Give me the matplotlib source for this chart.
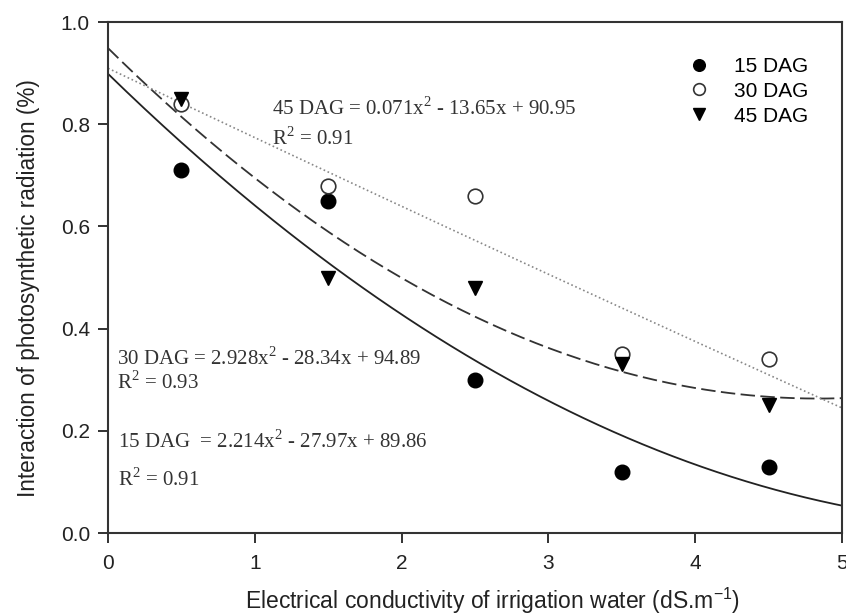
import numpy as np
import matplotlib
matplotlib.use("Agg")
import matplotlib.pyplot as plt

# Data
ec = [0.5, 1.5, 2.5, 3.5, 4.5]
dag15 = [0.71, 0.65, 0.30, 0.12, 0.13]
dag30 = [0.84, 0.68, 0.66, 0.35, 0.34]
dag45 = [0.85, 0.50, 0.48, 0.33, 0.25]

# Regression coefficients (percent scale): a*x^2 + b*x + c
coef15 = [2.214, -27.97, 89.86]
coef30 = [2.928, -28.34, 94.89]
coef45 = [0.071, -13.65, 90.95]

eq15 = "15 DAG  = 2.214x$^2$ - 27.97x + 89.86"
eq30 = "30 DAG = 2.928x$^2$ - 28.34x + 94.89"
eq45 = "45 DAG = 0.071x$^2$ - 13.65x + 90.95"
r15 = "R$^2$ = 0.91"
r30 = "R$^2$ = 0.93"
r45 = "R$^2$ = 0.91"

xticks = [0, 1, 2, 3, 4, 5]
yticks = [0.0, 0.2, 0.4, 0.6, 0.8, 1.0]

plt.rcParams['font.family'] = ['Liberation Sans', 'DejaVu Sans']
plt.rcParams['mathtext.fontset'] = 'custom'
plt.rcParams['mathtext.rm'] = 'Liberation Serif'

fig = plt.figure(figsize=(8.46, 6.15), dpi=100)
ax = fig.add_axes([0.1277, 0.1333, 0.8676, 0.8309])

xs = np.linspace(0, 5, 200)
def poly(c, x):
    return (c[0] * x**2 + c[1] * x + c[2]) / 100.0

ax.plot(xs, poly(coef15, xs), color='#222222', lw=1.3, ls='-')
ax.plot(xs, poly(coef30, xs), color='#333333', lw=1.3, ls=(0, (8, 3)))
ax.plot(xs, poly(coef45, xs), color='#888888', lw=1.2, ls=(0, (1, 1.6)))

h1, = ax.plot(ec, dag15, 'o', color='black', ms=10.5, ls='none', label='15 DAG')
h2, = ax.plot(ec, dag30, 'o', mfc='white', mec='#333333', mew=1.2, ms=10.5, ls='none', label='30 DAG')
h3, = ax.plot(ec, dag45, 'v', color='black', ms=10.5, ls='none', label='45 DAG')

ax.set_xlim(0, 5)
ax.set_ylim(0, 1.0)
ax.set_xticks(xticks)
ax.set_xticklabels([str(t) for t in xticks])
ax.set_yticks(yticks)
ax.set_yticklabels([f"{t:.1f}" for t in yticks])
ax.tick_params(direction='out', length=7, width=1.3, labelsize=15, colors='#222222', pad=6)
ax.tick_params(axis='x', pad=8)
for s in ax.spines.values():
    s.set_linewidth(1.5)
    s.set_color('#333333')

ax.set_xlabel("Electrical conductivity of irrigation water (dS.m$^{\\mathregular{-1}}$)", fontsize=16.5, color='#222222')
ax.xaxis.set_label_coords(0.524, -0.104)
ax.set_ylabel("Interaction of photosynthetic radiation (%)", fontsize=16.3, color='#222222')
ax.yaxis.set_label_coords(-0.093, 0.479)

serif = dict(family='Liberation Serif', fontsize=15, color='#333333')
ax.text(1.12, 0.830, eq45, va='center', ha='left', **serif)
ax.text(1.12, 0.773, r45, va='center', ha='left', **serif)
ax.text(0.06, 0.342, eq30, va='center', ha='left', **serif)
ax.text(0.06, 0.294, r30, va='center', ha='left', **serif)
ax.text(0.07, 0.180, eq15, va='center', ha='left', **serif)
ax.text(0.07, 0.104, r15, va='center', ha='left', **serif)

leg = ax.legend(handles=[h1, h2, h3], loc='upper right', bbox_to_anchor=(0.965, 0.948),
                frameon=False, fontsize=15, handletextpad=0.9, labelspacing=0.28,
                markerscale=0.8, borderaxespad=0, handlelength=1.5)

fig.savefig("out.png", dpi=100)
